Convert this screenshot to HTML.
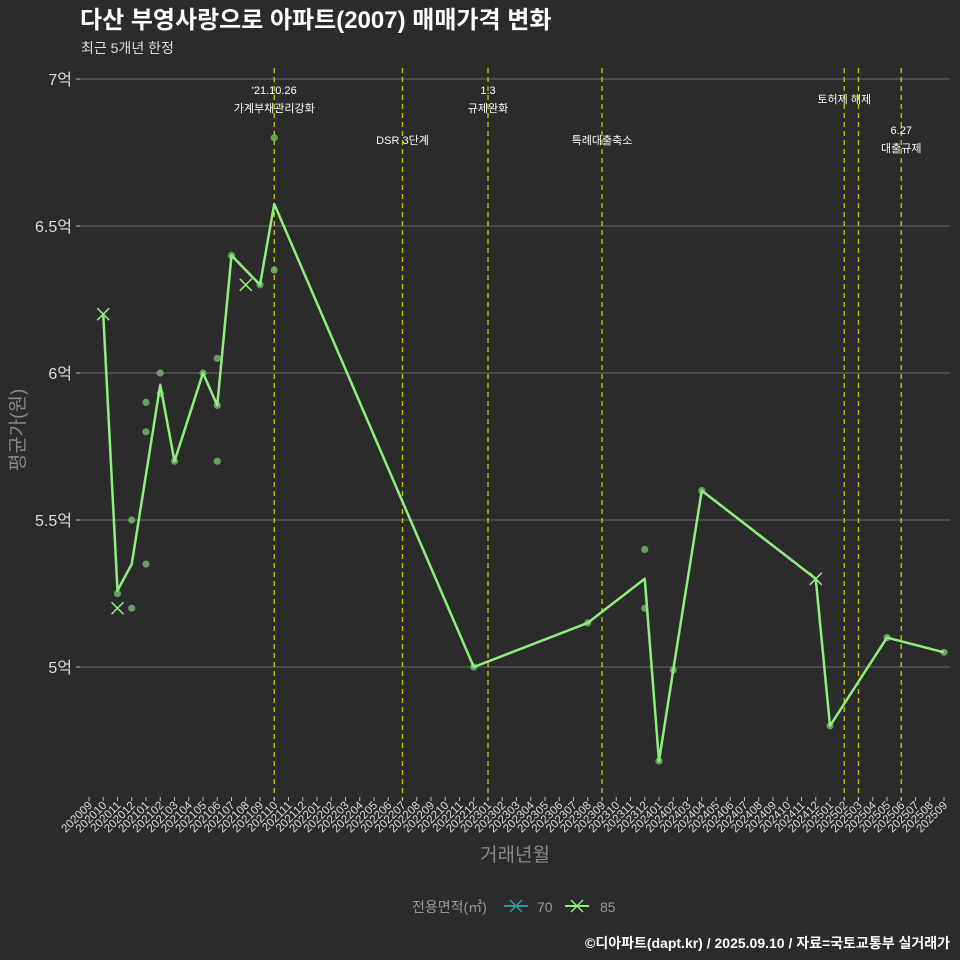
<!DOCTYPE html>
<html><head><meta charset="utf-8">
<style>
html,body{margin:0;padding:0;background:#2b2b2b;}
svg{display:block;font-family:"Liberation Sans","Noto Sans CJK KR",sans-serif;}
</style></head>
<body>
<svg id="chart" width="960" height="960" viewBox="0 0 960 960">
<rect x="0" y="0" width="960" height="960" fill="#2b2b2b"/>
<text x="80" y="28" font-size="24" font-weight="bold" fill="#ffffff">다산 부영사랑으로 아파트(2007) 매매가격 변화</text>
<text x="81" y="53" font-size="14" fill="#dddddd">최근 5개년 한정</text>
<g id="grid"></g>
<g id="events"></g>
<g id="xaxis"></g>
<g id="yaxis"></g>
<g id="marks"></g>
<text x="515" y="861" font-size="19" fill="#888888" text-anchor="middle">거래년월</text>
<text transform="translate(24,430) rotate(-90)" font-size="19" fill="#888888" text-anchor="middle">평균가(원)</text>
<g>
<text x="412" y="912" font-size="14" fill="#999999">전용면적(㎡)</text>
<g>
<line x1="504" y1="906" x2="528" y2="906" stroke="#2aa198" stroke-width="2"/>
<path d="M510,900 L522,912 M522,900 L510,912" stroke="#2aa198" stroke-width="1.5"/>
<text x="537" y="912" font-size="14" fill="#999999">70</text></g>
<g>
<line x1="565" y1="906" x2="589" y2="906" stroke="#90ee7e" stroke-width="2"/>
<path d="M571,900 L583,912 M583,900 L571,912" stroke="#90ee7e" stroke-width="1.5"/>
<text x="600" y="912" font-size="14" fill="#999999">85</text></g>
</g>
<text x="950" y="948" font-size="14" font-weight="bold" fill="#ffffff" text-anchor="end">©디아파트(dapt.kr) / 2025.09.10 / 자료=국토교통부 실거래가</text>
</svg>
<script>
const yTicks=[5,5.5,6,6.5,7];
const yTickLabels=["5억","5.5억","6억","6.5억","7억"];
const lineMonths=[1,2,3,5,6,8,9,10,12,13,27,35,39,40,41,43,51,52,56,60];
const lineValues=[6.2,5.26,5.35,5.96,5.7,6.0,5.89,6.4,6.3,6.575,5.0,5.15,5.3,4.68,4.99,5.6,5.3,4.8,5.1,5.05];
const dotMonths=[2,3,3,4,4,4,5,5,6,8,9,9,9,10,12,13,13,27,35,39,39,40,41,43,52,56,60];
const dotValues=[5.25,5.5,5.2,5.9,5.8,5.35,6.0,5.93,5.7,6.0,6.05,5.89,5.7,6.4,6.3,6.8,6.35,5.0,5.15,5.4,5.2,4.68,4.99,5.6,4.8,5.1,5.05];
const crossMonths=[1,2,11,51];
const crossValues=[6.2,5.2,6.3,5.3];
const eventMonths=[13,22,28,36,53,54,57];
const eventLabels=[["'21.10.26","가계부채관리강화"],["DSR 3단계"],["1.3","규제완화"],["특례대출축소"],["토허제 해제"],[],["6.27","대출규제"]];
const eventLabelY=[90,140,90,140,99,0,130];
const startYear=2020,startMonth=9,nMonths=61;

const NS="http://www.w3.org/2000/svg";
const X0=89,DX=14.25,Y5=667,PY=294;
const xs=m=>X0+m*DX;
const ys=v=>Y5-(v-5)*PY;
function el(tag,attrs,parent){const e=document.createElementNS(NS,tag);for(const k in attrs)e.setAttribute(k,attrs[k]);parent.appendChild(e);return e;}
const grid=document.getElementById('grid'),yax=document.getElementById('yaxis'),xax=document.getElementById('xaxis'),ev=document.getElementById('events'),mk=document.getElementById('marks');
yTicks.forEach((t,i)=>{
  const l=el('line',{x1:80,x2:950,y1:ys(t),y2:ys(t),stroke:'#5e5e5e','stroke-width':1.2},grid);
  
  
  const tk=el('line',{x1:76,x2:80,y1:ys(t),y2:ys(t),stroke:'#bbbbbb'},yax);
  
  
  const tx=el('text',{x:72,y:ys(t)+6,'font-size':16,fill:'#dddddd','text-anchor':'end'},yax);
  tx.textContent=yTickLabels[i];
  
  
});
for(let m=0;m<nMonths;m++){
  const mo=(startMonth-1+m)%12+1,yr=startYear+Math.floor((startMonth-1+m)/12);
  const lab=yr+String(mo).padStart(2,'0');
  const tk=el('line',{x1:xs(m),x2:xs(m),y1:797,y2:801,stroke:'#bbbbbb'},xax);
  
  
  const tx=el('text',{transform:`translate(${xs(m)+4},806) rotate(-45)`,'font-size':11.5,fill:'#dddddd','text-anchor':'end'},xax);
  tx.textContent=lab;
  
  
}
eventMonths.forEach((m,i)=>{
  const l=el('line',{x1:xs(m),x2:xs(m),y1:68,y2:800,stroke:'#c8c800','stroke-width':1.3,'stroke-dasharray':'5,4'},ev);
  
  
  let cx=xs(m); if(i===4) cx=xs(53);
  eventLabels[i].forEach((s,j)=>{
    const t=el('text',{x:cx,y:eventLabelY[i]+j*18+4,'font-size':11,fill:'#ffffff','text-anchor':'middle'},ev);
    t.textContent=s;
    
    
  });
});
dotMonths.forEach((m,i)=>{
  const c=el('circle',{cx:xs(m),cy:ys(dotValues[i]),r:3.6,fill:'#6fb56a','fill-opacity':0.85},mk);
  
  
});
const pl=el('polyline',{points:lineMonths.map((m,i)=>xs(m)+','+ys(lineValues[i])).join(' '),fill:'none',stroke:'#90ee7e','stroke-width':2.5,'stroke-linejoin':'round'},mk);


crossMonths.forEach((m,i)=>{
  const x=xs(m),y=ys(crossValues[i]);
  const p=el('path',{d:`M${x-6},${y-6}L${x+6},${y+6}M${x+6},${y-6}L${x-6},${y+6}`,stroke:'#90ee7e','stroke-width':1.5},mk);
  
  
});
</script>
</body></html>
